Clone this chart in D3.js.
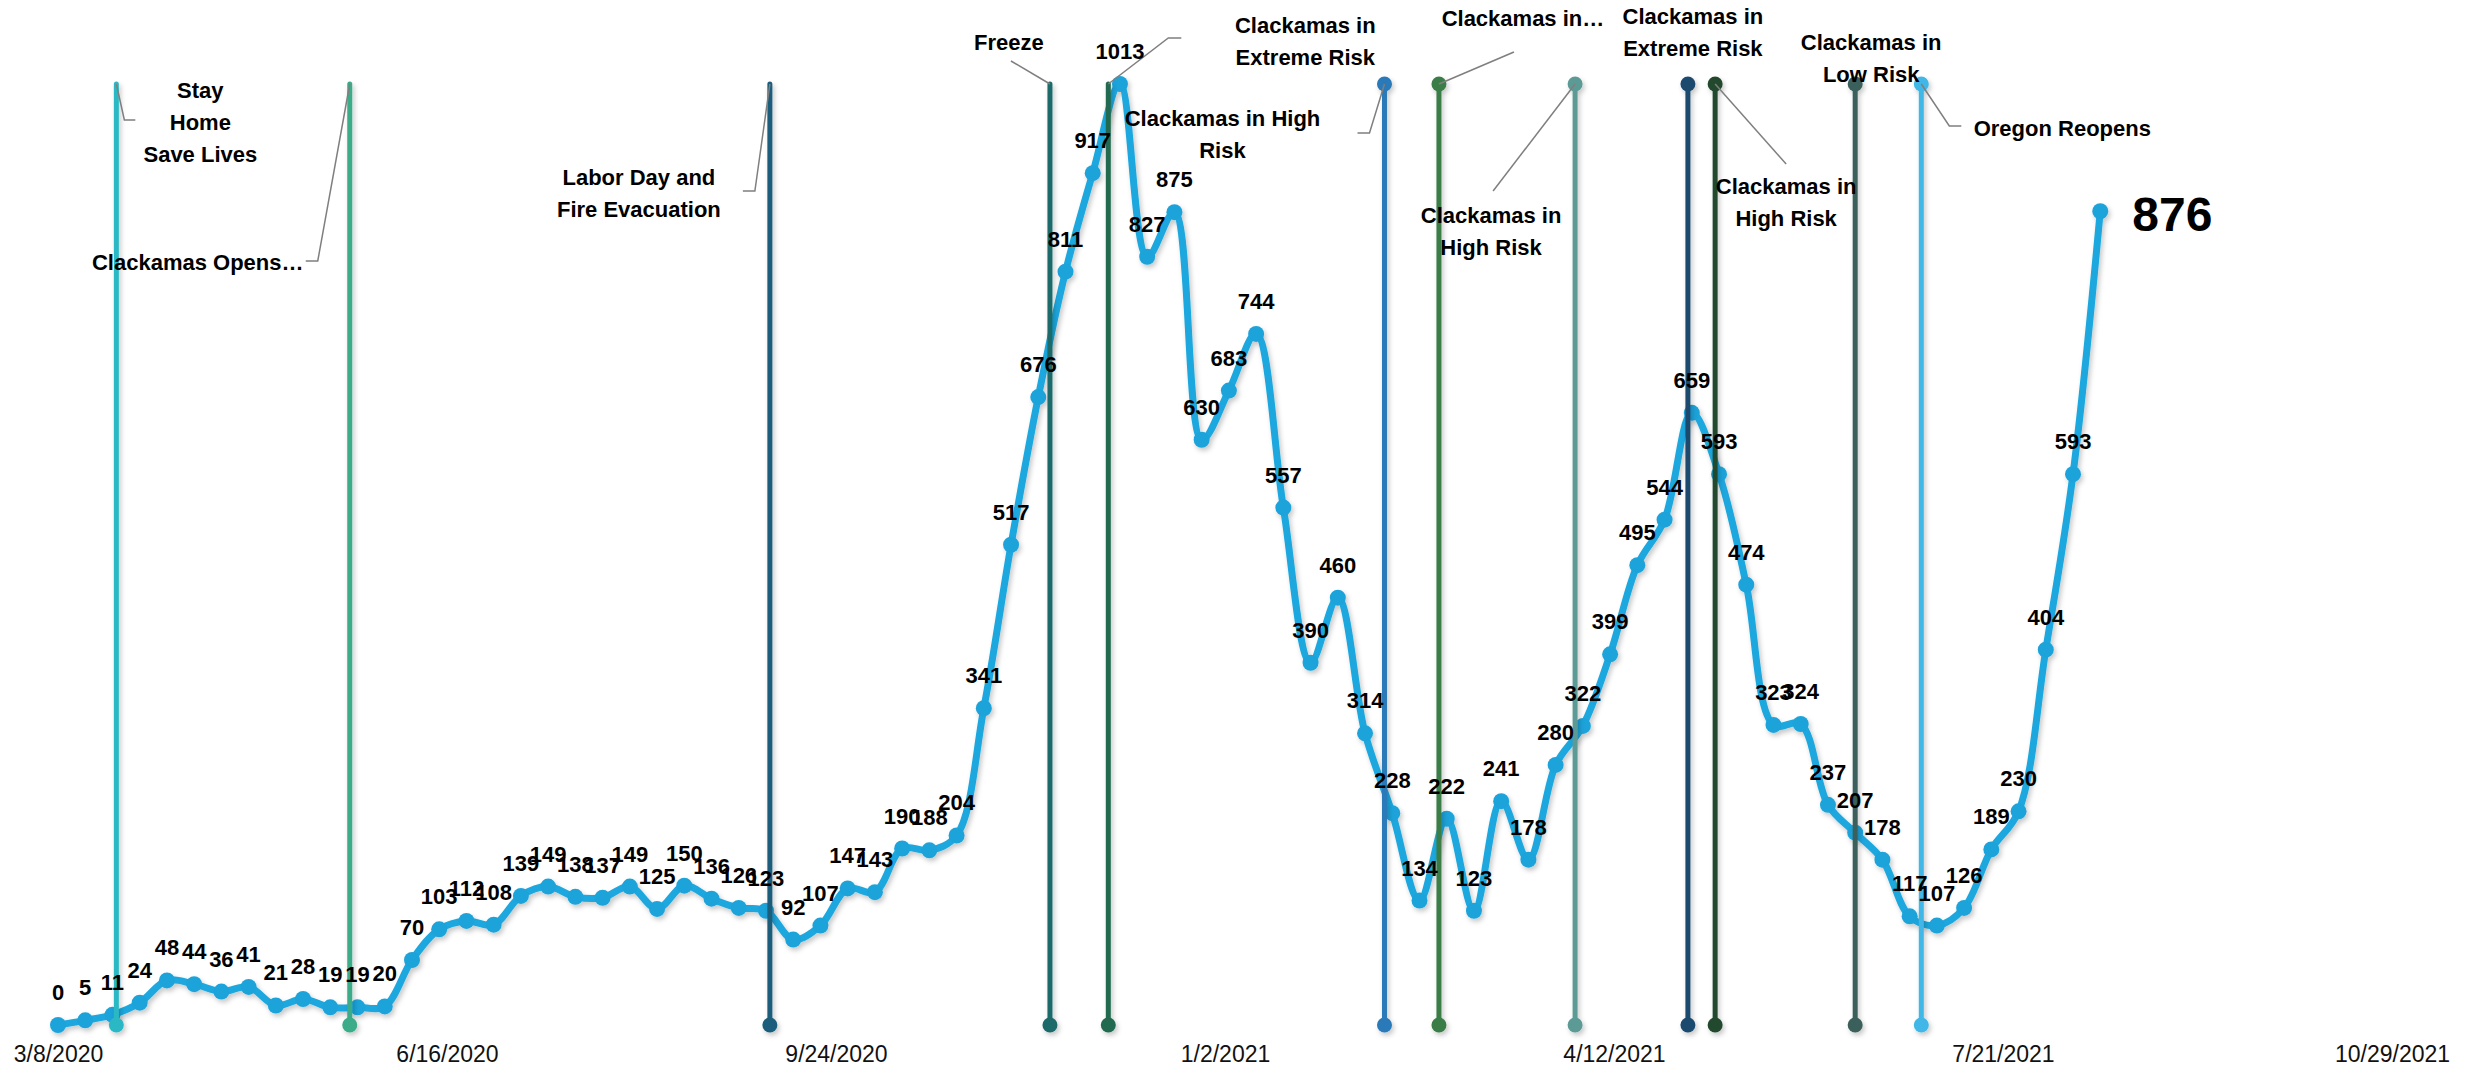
<!DOCTYPE html>
<html>
<head>
<meta charset="utf-8">
<script src="https://cdn.jsdelivr.net/npm/d3@7"></script>
<style>
	body { margin: 0; background: #fff; }
	svg text { font-family: "Liberation Sans", Arial, sans-serif; }
</style>
</head>
<body>
<script>
// weekly new cases, one value per week starting 3/8/2020
let firstWeek = "2020-03-08";
let cases = [0, 5, 11, 24, 48, 44, 36, 41, 21, 28, 19, 19, 20, 70, 103, 112, 108, 139, 149, 138,
	137, 149, 125, 150, 136, 126, 123, 92, 107, 147, 143, 190, 188, 204, 341, 517, 676, 811, 917, 1013,
	827, 875, 630, 683, 744, 557, 390, 460, 314, 228, 134, 222, 123, 241, 178, 280, 322, 399, 495, 544,
	659, 593, 474, 323, 324, 237, 207, 178, 117, 107, 126, 189, 230, 404, 593, 876];

// x axis tick labels
let tickLabels = ["3/8/2020", "6/16/2020", "9/24/2020", "1/2/2021", "4/12/2021", "7/21/2021", "10/29/2021"];

// events drawn as vertical lines
let eventDates = ["2020-03-23", "2020-05-22", "2020-09-07", "2020-11-18", "2020-12-03", "2021-02-12",
	"2021-02-26", "2021-04-02", "2021-05-01", "2021-05-08", "2021-06-13", "2021-06-30"];
let eventLabels = [
	["Stay", "Home", "Save Lives"],
	["Clackamas Opens…"],
	["Labor Day and", "Fire Evacuation"],
	["Freeze"],
	["Clackamas in", "Extreme Risk"],
	["Clackamas in High", "Risk"],
	["Clackamas in…"],
	["Clackamas in", "High Risk"],
	["Clackamas in", "Extreme Risk"],
	["Clackamas in", "High Risk"],
	["Clackamas in", "Low Risk"],
	["Oregon Reopens"]
];
let eventColors = ["#2bb9c4", "#3aab88", "#1b5d7b", "#1b6a6b", "#236a50", "#2a79b8",
	"#3a7d47", "#5c9b95", "#1c4a6e", "#22492f", "#3a5e5a", "#40b7e6"];

let svg = d3.select("body").append("svg")
	.attr("width", 2476)
	.attr("height", 1069);

let parse = d3.timeParse("%Y-%m-%d");
let tickParse = d3.timeParse("%-m/%-d/%Y");
let start = parse(firstWeek);
let weeks = cases.map((d, i) => d3.timeDay.offset(start, 7 * i));
let data = cases.map((d, i) => ({ date: weeks[i], value: d }));

//scales
let scaleX = d3.scaleTime()
	.domain([tickParse(tickLabels[0]), tickParse(tickLabels[tickLabels.length - 1])])
	.range([58, 2392]);

let scaleY = d3.scaleLinear()
	.domain([0, d3.max(cases)])
	.range([1025, 84]);

//soft shadow like the original
let defs = svg.append("defs");
defs.append("filter")
	.attr("id", "shadow")
	.attr("x", "-50%").attr("y", "-50%").attr("width", "200%").attr("height", "200%")
	.append("feDropShadow")
	.attr("dx", 2).attr("dy", 3)
	.attr("stdDeviation", 2.5)
	.attr("flood-color", "#000")
	.attr("flood-opacity", 0.22);

//x axis, only labels
let xAxis = d3.axisBottom(scaleX)
	.tickValues(tickLabels.map(tickParse))
	.tickFormat(d3.timeFormat("%-m/%-d/%Y"))
	.tickSize(0)
	.tickPadding(21);

let xG = svg.append("g")
	.attr("transform", `translate(0, ${scaleY(0)})`)
	.call(xAxis);
xG.select(".domain").remove();
xG.selectAll("text")
	.attr("font-size", 23)
	.attr("font-family", null)
	.attr("fill", "#111");

//the case line
let line = d3.line()
	.x(d => scaleX(d.date))
	.y(d => scaleY(d.value))
	.curve(d3.curveCatmullRom.alpha(0.5));

let lineG = svg.append("g").attr("filter", "url(#shadow)");

lineG.append("path")
	.datum(data)
	.attr("fill", "none")
	.attr("stroke", "#1da7de")
	.attr("stroke-width", 7)
	.attr("stroke-linejoin", "round")
	.attr("stroke-linecap", "round")
	.attr("d", line);

lineG.selectAll("circle")
	.data(data)
	.join("circle")
	.attr("cx", d => scaleX(d.date))
	.attr("cy", d => scaleY(d.value))
	.attr("r", 8)
	.attr("fill", "#1ea3da");

//event lines
let events = eventDates.map((d, i) => ({ date: parse(d), label: eventLabels[i], color: eventColors[i], i: i }));
let yTop = scaleY(d3.max(cases));
let yBottom = scaleY(0);

let evG = svg.append("g").attr("filter", "url(#shadow)");

evG.selectAll("line")
	.data(events)
	.join("line")
	.attr("x1", d => scaleX(d.date))
	.attr("x2", d => scaleX(d.date))
	.attr("y1", yTop)
	.attr("y2", yBottom)
	.attr("stroke", d => d.color)
	.attr("stroke-width", 5)
	.attr("stroke-linecap", "round");

evG.selectAll(".bottomDot")
	.data(events)
	.join("circle")
	.attr("class", "bottomDot")
	.attr("cx", d => scaleX(d.date))
	.attr("cy", yBottom)
	.attr("r", 7.5)
	.attr("fill", d => d.color);

//the later events also have a dot at the top
evG.selectAll(".topDot")
	.data(events.filter(d => d.i >= 5))
	.join("circle")
	.attr("class", "topDot")
	.attr("cx", d => scaleX(d.date))
	.attr("cy", yTop)
	.attr("r", 7.5)
	.attr("fill", d => d.color);

//where each event label sits, relative to the top of its line
let notePlace = [
	{ dx: 84, dy: 6, leader: [[0, 0], [8, 36], [19, 36]] },
	{ dx: -152, dy: 178, leader: [[-44, 177], [-32, 177], [0, 0]] },
	{ dx: -131, dy: 93, leader: [[-27, 107], [-15, 107], [0, 0]] },
	{ dx: -41, dy: -42, leader: [[-39, -23], [0, 0]] },
	{ dx: 197, dy: -59, leader: [[0, 0], [60, -46], [73, -46]] },
	{ dx: -162, dy: 34, leader: [[-27, 49], [-15, 49], [0, 0]] },
	{ dx: 84, dy: -66, leader: [[75, -32], [0, 0]] },
	{ dx: -84, dy: 131, leader: [[-82, 107], [0, 0]] },
	{ dx: 5, dy: -68, leader: null },
	{ dx: 71, dy: 102, leader: [[0, 0], [71, 80]] },
	{ dx: 16, dy: -42, leader: null },
	{ dx: 141, dy: 44, leader: [[0, 0], [28, 42], [40, 42]] }
];

let noteG = svg.append("g");
let leaderLine = d3.line();

events.forEach(ev => {
	let p = notePlace[ev.i];
	let x0 = scaleX(ev.date);
	if (p.leader) {
		noteG.append("path")
			.attr("d", leaderLine(p.leader.map(q => [x0 + q[0], yTop + q[1]])))
			.attr("fill", "none")
			.attr("stroke", "#7f7f7f")
			.attr("stroke-width", 1.5);
	}
	let t = noteG.append("text")
		.attr("text-anchor", "middle")
		.attr("font-size", 22)
		.attr("font-weight", "bold")
		.attr("fill", "#000");
	ev.label.forEach((s, k) => {
		t.append("tspan")
			.attr("x", x0 + p.dx)
			.attr("y", yTop + p.dy + k * 32 + 8)
			.text(s);
	});
});

//data labels above every point but the last
let last = data[data.length - 1];
svg.append("g")
	.selectAll("text")
	.data(data.slice(0, -1))
	.join("text")
	.attr("x", d => scaleX(d.date))
	.attr("y", d => scaleY(d.value) - 25)
	.attr("text-anchor", "middle")
	.attr("font-size", 22)
	.attr("font-weight", "bold")
	.attr("fill", "#000")
	.text(d => d.value);

//big label for the latest week
svg.append("text")
	.attr("x", scaleX(last.date) + 32)
	.attr("y", scaleY(last.value) + 20)
	.attr("font-size", 48)
	.attr("font-weight", "bold")
	.attr("fill", "#000")
	.text(last.value);
</script>
</body>
</html>
